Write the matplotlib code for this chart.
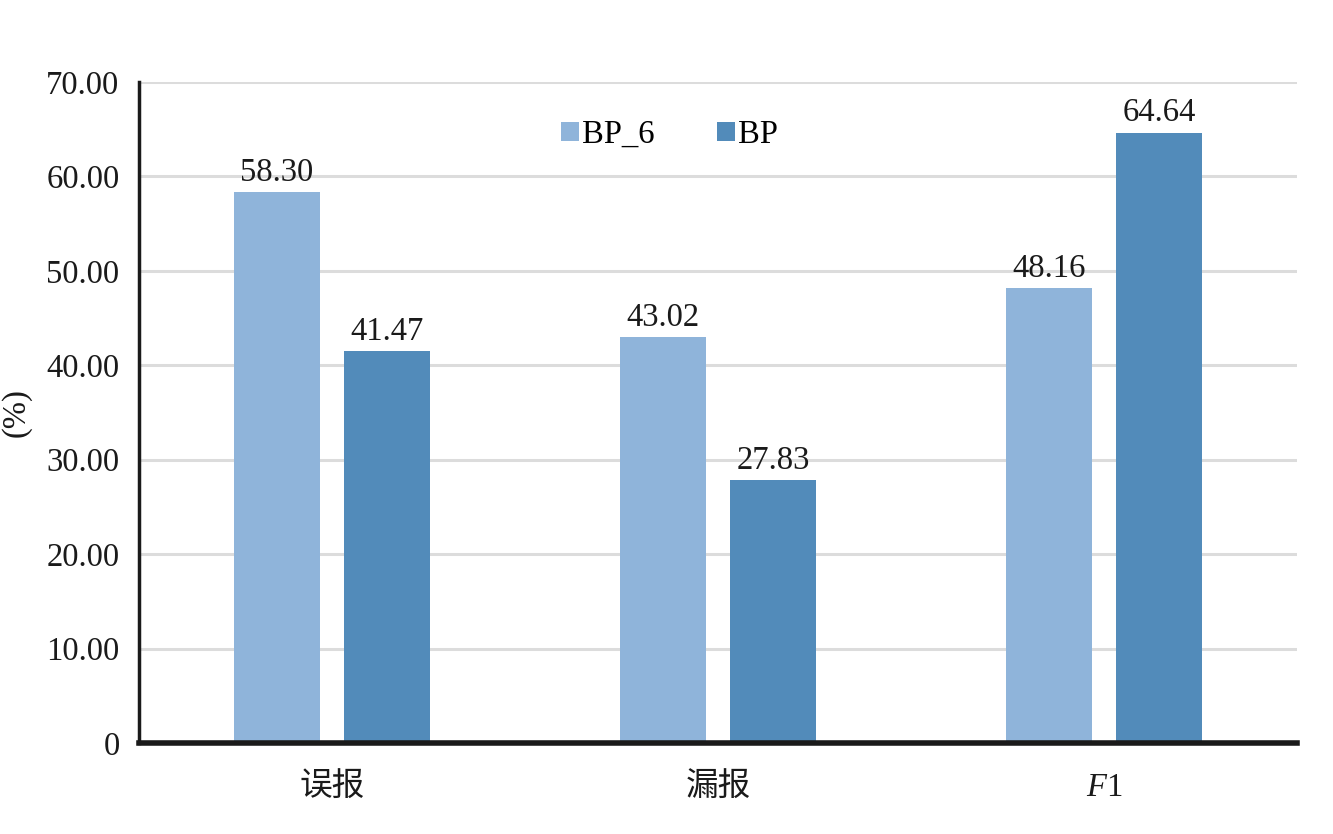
import matplotlib
matplotlib.use("Agg")
import matplotlib.pyplot as plt
import numpy as np

categories = ["误报", "漏报", r"$F$1"]
series_names = ["BP_6", "BP"]
bp6_values = [58.30, 43.02, 48.16]
bp_values = [41.47, 27.83, 64.64]
y_ticks = [0, 10, 20, 30, 40, 50, 60, 70]
y_tick_labels = ["0", "10.00", "20.00", "30.00", "40.00", "50.00", "60.00", "70.00"]

plt.rcParams["font.family"] = ["Liberation Serif", "Noto Sans CJK SC"]
plt.rcParams["mathtext.fontset"] = "custom"
plt.rcParams["mathtext.rm"] = "Liberation Serif"
plt.rcParams["mathtext.it"] = "Liberation Serif:italic"

FS = 23.5


def main() -> None:
    fig = plt.figure(figsize=(13.33, 8.34), dpi=100)
    ax = fig.add_axes([0.1043, 0.1091, 0.8687, 0.7926])

    x = np.arange(len(categories))
    width = 0.223
    offset = 0.1425
    light = "#8FB4DA"
    dark = "#528BBA"

    b1 = ax.bar(x - offset, bp6_values, width, color=light, label=series_names[0], zorder=3)
    b2 = ax.bar(x + offset, bp_values, width, color=dark, label=series_names[1], zorder=3)

    for bars in (b1, b2):
        ax.bar_label(bars, labels=[f"{v:.2f}" for v in bars.datavalues],
                     padding=3, fontsize=FS, color="#1a1a1a")

    ax.set_xlim(-0.5, 2.5)
    ax.set_ylim(0, 70)
    ax.set_yticks(y_ticks)
    ax.set_yticklabels(y_tick_labels)
    ax.set_xticks(x)
    ax.set_xticklabels(categories)
    ax.tick_params(axis="y", length=0, pad=14, labelsize=FS, labelcolor="#1a1a1a")
    ax.tick_params(axis="x", length=0, pad=21, labelsize=FS, labelcolor="#1a1a1a")

    ax.grid(axis="y", color="#dcdcdc", linewidth=2.2, zorder=0)
    ax.set_axisbelow(True)
    for side in ("top", "right"):
        ax.spines[side].set_visible(False)
    ax.spines["left"].set_linewidth(2.5)
    ax.spines["left"].set_color("#1a1a1a")
    ax.spines["bottom"].set_linewidth(4)
    ax.spines["bottom"].set_color("#1a1a1a")
    ax.spines["left"].set_zorder(4)
    ax.spines["bottom"].set_zorder(4)

    ax.legend(loc="center", bbox_to_anchor=(0.458, 0.92), ncol=2, frameon=False,
              fontsize=FS, handlelength=0.55, handleheight=0.55, handletextpad=0.1,
              columnspacing=1.9)

    fig.text(0.012, 0.505, "(%)", rotation=90, va="center", ha="center",
             fontsize=FS, color="#1a1a1a")

    fig.savefig("out.png", dpi=100)
    plt.close(fig)


if __name__ == "__main__":
    main()
